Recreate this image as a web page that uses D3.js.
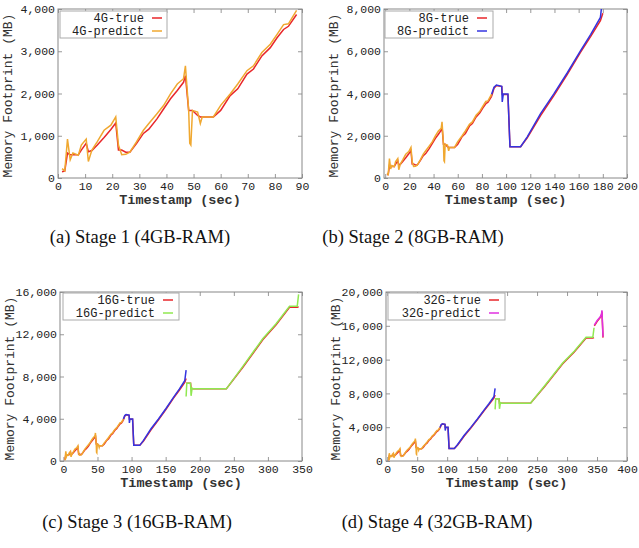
<!DOCTYPE html>
<html>
<head>
<meta charset="utf-8">
<script src="https://cdn.jsdelivr.net/npm/d3@7"></script>
<style>
  body { margin: 0; background: #fff; }
  svg { display: block; }
</style>
</head>
<body>
<div id="chart"></div>
<script>
// stage 1 (4GB)
const stage1Time = [1.5, 2.5, 3.5, 4.5, 5.5, 7.5, 8.6, 10.4, 11.2, 12.5, 14.5, 17, 19.5, 21.3, 22.3, 23.5, 25, 26.5, 29, 31.5, 33.5, 36.5, 39, 41.5, 44, 46.3, 47, 48.2, 48.6, 49, 49.6, 51.5, 52.5, 53.2, 57.3, 60, 63.5, 66.3, 69.7, 72.1, 75.2, 78.3, 80.8, 83.2, 85, 88];
const stage1True = [150, 170, 590, 550, 550, 550, 660, 820, 620, 650, 780, 960, 1150, 1300, 660, 660, 610, 610, 820, 1055, 1155, 1400, 1640, 1875, 2070, 2265, 2420, 1600, 1600, 1600, 1600, 1480, 1445, 1445, 1445, 1600, 1950, 2110, 2460, 2580, 2890, 3085, 3320, 3515, 3590, 3870];
const stage1Pred = [220, 170, 920, 430, 590, 540, 780, 920, 390, 660, 860, 1130, 1250, 1445, 780, 550, 560, 610, 860, 1130, 1290, 1520, 1720, 1990, 2225, 2350, 2655, 1600, 820, 780, 1600, 1560, 1290, 1445, 1445, 1720, 1990, 2225, 2540, 2655, 2970, 3165, 3400, 3630, 3650, 3970];

// stage 2 (8GB)
const stage2Time = [88, 90, 92, 96.4, 96.8, 97.7, 101.5, 103.2, 105, 112, 117.5, 128.5, 139.5, 150.5, 161.5, 170, 178, 180];
const stage2True = [3870, 4250, 4380, 4330, 3950, 3950, 3950, 1480, 1480, 1480, 1900, 2950, 3900, 4900, 5950, 6700, 7450, 7800];
const stage2Pred = [3970, 4300, 4400, 4340, 3600, 3980, 3980, 1480, 1480, 1480, 1950, 3050, 3980, 4970, 6020, 6800, 7600, 8600];

// stage 3 (16GB)
const stage3Time = [180, 181, 186.5, 187.3, 188.8, 191, 239, 263, 292.7, 312, 331.7, 343, 345];
const stage3True = [7370, 7370, 7370, 6830, 6830, 6830, 6830, 8850, 11500, 12900, 14550, 14550, 14600];
const stage3Pred = [6110, 7370, 7370, 6175, 6900, 6830, 6830, 8930, 11600, 13000, 14640, 14640, 15770];

// stage 4 (32GB)
const stage4Time = [345.5, 350, 355.5, 357.5, 358.2, 360];
const stage4True = [16000, 16500, 17000, 17300, 17700, 14600];
const stage4Pred = [16080, 16600, 17060, 17400, 17840, 14700];

const stageColors = ["#f0a830", "#3434e0", "#90e850", "#e030e0"];
const trueColor = "#e8262a";

const panelNames = ["4G", "8G", "16G", "32G"];
const captions = ["(a) Stage 1 (4GB-RAM)", "(b) Stage 2 (8GB-RAM)", "(c) Stage 3 (16GB-RAM)", "(d) Stage 4 (32GB-RAM)"];
const xDomains = [[0, 90], [-1, 200], [-5, 350], [-2, 400]];
const yMax = [4000, 8000, 16000, 20000];
const xTickVals = [d3.range(0, 91, 10), d3.range(0, 201, 20), d3.range(0, 351, 50), d3.range(0, 401, 50)];
const yTickVals = [d3.range(0, 4001, 1000), d3.range(0, 8001, 2000), d3.range(0, 16001, 4000), d3.range(0, 20001, 4000)];

const stages = [
  { t: stage1Time, tr: stage1True, pr: stage1Pred },
  { t: stage2Time, tr: stage2True, pr: stage2Pred },
  { t: stage3Time, tr: stage3True, pr: stage3Pred },
  { t: stage4Time, tr: stage4True, pr: stage4Pred }
];

const boxes = [
  { left: 58, right: 302, top: 9, bottom: 178, cx: 140, cy: 243 },
  { left: 384, right: 627, top: 9, bottom: 178, cx: 413, cy: 243 },
  { left: 60, right: 302, top: 292, bottom: 461, cx: 137, cy: 528 },
  { left: 386, right: 627, top: 292, bottom: 461, cx: 437, cy: 528 }
];
const legendBoxes = [
  { x: 60, y: 11, w: 107, textEnd: 144 },
  { x: 385, y: 11, w: 108, textEnd: 469 },
  { x: 63, y: 293, w: 116, textEnd: 155 },
  { x: 388, y: 293, w: 117, textEnd: 481 }
];

const mono = "'Liberation Mono', 'DejaVu Sans Mono', monospace";

const svg = d3.select("#chart").append("svg")
  .attr("width", 639)
  .attr("height", 548);

boxes.forEach((b, i) => {
  const x = d3.scaleLinear().domain(xDomains[i]).range([b.left, b.right]);
  const y = d3.scaleLinear().domain([0, yMax[i]]).range([b.bottom, b.top]);
  const g = svg.append("g");

  g.append("clipPath").attr("id", "clip" + i)
    .append("rect")
    .attr("x", b.left).attr("y", b.top)
    .attr("width", b.right - b.left).attr("height", b.bottom - b.top);

  // ticks, inward on all sides
  const tickLen = 4;
  g.append("g").attr("transform", `translate(0,${b.bottom})`)
    .call(d3.axisBottom(x).tickValues(xTickVals[i]).tickSize(-tickLen).tickPadding(4).tickFormat(d3.format("d")));
  g.append("g").attr("transform", `translate(0,${b.top})`)
    .call(d3.axisTop(x).tickValues(xTickVals[i]).tickSize(-tickLen).tickFormat(""));
  g.append("g").attr("transform", `translate(${b.left},0)`)
    .call(d3.axisLeft(y).tickValues(yTickVals[i]).tickSize(-tickLen).tickPadding(3).tickFormat(d3.format(",")));
  g.append("g").attr("transform", `translate(${b.right},0)`)
    .call(d3.axisRight(y).tickValues(yTickVals[i]).tickSize(-tickLen).tickFormat(""));

  g.selectAll(".domain").remove();
  g.selectAll(".tick line").attr("stroke", "#999");
  g.selectAll(".tick text")
    .attr("font-family", mono).attr("font-size", 11.5).attr("fill", "#222");

  g.append("rect")
    .attr("x", b.left).attr("y", b.top)
    .attr("width", b.right - b.left).attr("height", b.bottom - b.top)
    .attr("fill", "none").attr("stroke", "#888").attr("stroke-width", 1);

  // lines
  const line = d3.line().x(d => x(d[0])).y(d => y(d[1]));
  const plot = g.append("g").attr("clip-path", `url(#clip${i})`);
  for (let s = 0; s <= i; s++) {
    const st = stages[s];
    plot.append("path")
      .datum(st.t.map((t, k) => [t, st.tr[k]]))
      .attr("d", line)
      .attr("fill", "none").attr("stroke", trueColor).attr("stroke-width", 1.5);
  }
  for (let s = 0; s <= i; s++) {
    const st = stages[s];
    plot.append("path")
      .datum(st.t.map((t, k) => [t, st.pr[k]]))
      .attr("d", line)
      .attr("fill", "none").attr("stroke", stageColors[s]).attr("stroke-width", 1.5);
  }

  // legend
  const lb = legendBoxes[i];
  const lg = g.append("g");
  lg.append("rect")
    .attr("x", lb.x).attr("y", lb.y).attr("width", lb.w).attr("height", 27)
    .attr("fill", "#fff").attr("stroke", "#aaa").attr("stroke-width", 1);
  const items = [[panelNames[i] + "-true", trueColor], [panelNames[i] + "-predict", stageColors[i]]];
  items.forEach((it, k) => {
    const cy = lb.y + 7 + k * 13;
    lg.append("text")
      .attr("x", lb.textEnd).attr("y", cy).attr("dy", "0.32em")
      .attr("text-anchor", "end")
      .attr("font-family", mono).attr("font-size", 12).attr("fill", "#222")
      .text(it[0]);
    lg.append("line")
      .attr("x1", lb.textEnd + 8).attr("x2", lb.textEnd + 18)
      .attr("y1", cy).attr("y2", cy)
      .attr("stroke", it[1]).attr("stroke-width", 1.5);
  });

  // axis titles
  g.append("text")
    .attr("x", (b.left + b.right) / 2).attr("y", b.bottom + 26)
    .attr("text-anchor", "middle")
    .attr("font-family", mono).attr("font-size", 13.5).attr("font-weight", "bold").attr("fill", "#333")
    .text("Timestamp (sec)");
  g.append("text")
    .attr("transform", `translate(${b.left - 46},${(b.top + b.bottom) / 2 + 2}) rotate(-90)`)
    .attr("text-anchor", "middle")
    .attr("font-family", mono).attr("font-size", 13).attr("fill", "#333")
    .text("Memory Footprint (MB)");

  // caption
  svg.append("text")
    .attr("x", b.cx).attr("y", b.cy)
    .attr("text-anchor", "middle")
    .attr("font-family", "'Liberation Serif', 'DejaVu Serif', serif")
    .attr("font-size", 18.5).attr("fill", "#111")
    .text(captions[i]);
});
</script>
</body>
</html>
